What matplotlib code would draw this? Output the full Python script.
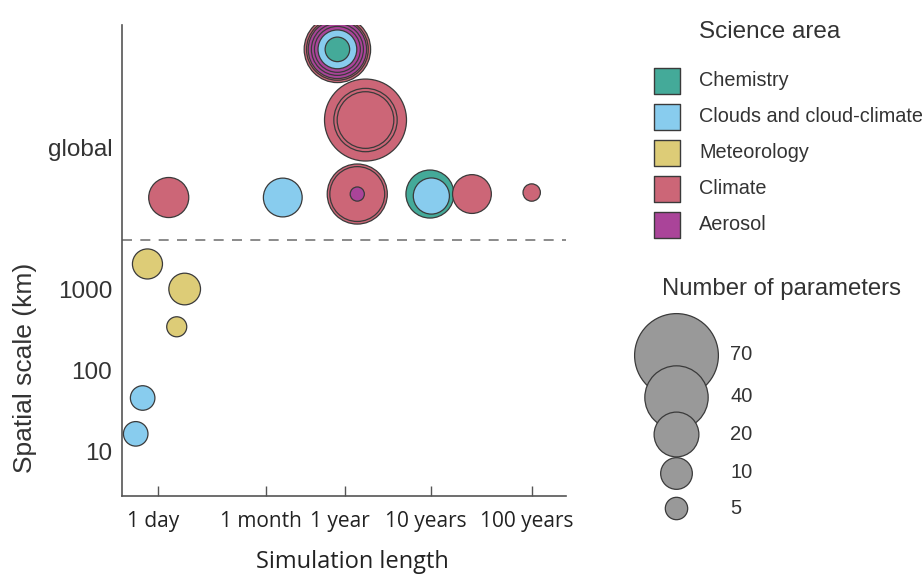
import numpy as np
import matplotlib
matplotlib.use("Agg")
import matplotlib.pyplot as plt
from matplotlib.transforms import ScaledTranslation

# Science areas and colours
areas = ["Chemistry", "Clouds and cloud-climate", "Meteorology", "Climate", "Aerosol"]
area_colors = ["#44AA99", "#88CCEE", "#DDCC77", "#CC6677", "#AA4499"]

# Studies: simulation length (days), spatial scale (km, "global" rows placed above), n parameters
sim_days = [0.71, 2.3, 1.79, 0.61, 0.49,
            1.39, 51, 507, 507, 507, 3550, 3680, 9310, 36500,
            632, 632, 632,
            287, 287, 287, 287, 287, 287, 287]
scale_km = [2030, 1000, 344, 46, 16.7,
            13270, 13270, 14640, 14640, 14640, 14640, 13840, 14640, 15280,
            118500, 118500, 118500,
            873000, 873000, 873000, 873000, 873000, 873000, 873000]
n_params = [9, 10, 4, 6, 6,
            16, 15, 36, 30, 2, 23, 13, 15, 3,
            67, 40, 32,
            44, 38, 34, 27, 21, 15, 6]
study_area = ["Meteorology", "Meteorology", "Meteorology",
              "Clouds and cloud-climate", "Clouds and cloud-climate",
              "Climate", "Clouds and cloud-climate", "Climate", "Climate", "Aerosol",
              "Chemistry", "Clouds and cloud-climate", "Climate", "Climate",
              "Climate", "Climate", "Climate",
              "Climate", "Climate", "Aerosol", "Aerosol", "Aerosol",
              "Clouds and cloud-climate", "Chemistry"]

x_ticks = [1, 30, 365, 3650, 36500]
x_ticklabels = ["1 day", "1 month", "1 year", "10 years", "100 years"]
y_ticks = [10, 100, 1000, 54000]
y_ticklabels = ["10", "100", "1000", "global"]
global_line_km = 3980

size_legend = [70, 40, 20, 10, 5]

SIZE_K = 52  # marker area (pt^2) per parameter

# uneven log axis as in the original figure
knot_log = np.log10([0.1, 1, 30, 365, 3650, 36500, 365000])
knot_pos = np.array([-0.729, 0, 1.077, 1.867, 2.727, 3.734, 4.741])

def fwd(x):
    x = np.clip(np.asarray(x, dtype=float), 1e-6, None)
    return np.interp(np.log10(x), knot_log, knot_pos)

def inv(p):
    return 10 ** np.interp(p, knot_pos, knot_log)

fig = plt.figure(figsize=(9.22, 5.75), dpi=100)
ax = fig.add_axes([122 / 922, 1 - 496 / 575, (566 - 122) / 922, (496 - 25) / 575])

ax.set_xscale("function", functions=(fwd, inv))
ax.set_yscale("log")
ax.set_xlim(inv(-0.363), inv(4.077))
ax.set_ylim(10 ** 0.46, 10 ** 6.24)

# draw big circles first so nested ones stay visible
order = np.argsort(n_params)[::-1]
cmap = dict(zip(areas, area_colors))
xs = np.array(sim_days)[order]
ys = np.array(scale_km)[order]
ss = np.array(n_params)[order] * SIZE_K
cs = [cmap[study_area[i]] for i in order]
ax.scatter(xs, ys, s=ss, c=cs, edgecolors="#3a3a3a", linewidths=0.9, zorder=3)

ax.axhline(global_line_km, color="#777777", lw=1.2, dashes=(6, 5), zorder=1)

for side in ["top", "right"]:
    ax.spines[side].set_visible(False)
for side in ["left", "bottom"]:
    ax.spines[side].set_color("#555555")
    ax.spines[side].set_linewidth(1.2)

ax.set_xticks(x_ticks)
ax.set_xticklabels(x_ticklabels, fontfamily="Open Sans", fontsize=15, color="#222222")
ax.xaxis.set_minor_locator(matplotlib.ticker.NullLocator())
ax.tick_params(axis="x", direction="in", length=7, width=1, color="#555555", pad=11)
shift = ScaledTranslation(-5 / 100, 0, fig.dpi_scale_trans)
for lab in ax.get_xticklabels():
    lab.set_transform(lab.get_transform() + shift)

ax.set_yticks(y_ticks)
ax.set_yticklabels(y_ticklabels, fontfamily="Liberation Sans", fontsize=17.5, color="#333333")
ax.yaxis.set_minor_locator(matplotlib.ticker.NullLocator())
ax.tick_params(axis="y", length=0, pad=7)

fig.text(352 / 922, 1 - 562 / 575, "Simulation length", ha="center", va="center",
         fontfamily="Open Sans", fontsize=17, color="#222222")
fig.text(25 / 922, 1 - 368 / 575, "Spatial scale (km)", ha="center", va="center",
         rotation=90, fontfamily="Liberation Sans", fontsize=19, color="#333333")

# legends, drawn in a pixel-coordinate overlay
lg = fig.add_axes([0, 0, 1, 1], facecolor="none")
lg.set_xlim(0, 922)
lg.set_ylim(575, 0)
lg.axis("off")

lg.text(699, 32, "Science area", ha="left", va="center",
        fontfamily="Liberation Sans", fontsize=17.5, color="#333333")
for i, (name, col) in enumerate(zip(areas, area_colors)):
    yy = 81 + i * 36
    lg.scatter([667], [yy], marker="s", s=377, c=col, edgecolors="#3a3a3a", linewidths=1.0)
    lg.text(699, yy, name, ha="left", va="center",
            fontfamily="Liberation Sans", fontsize=14.3, color="#333333")

lg.text(781, 289, "Number of parameters", ha="center", va="center",
        fontfamily="Liberation Sans", fontsize=17.2, color="#333333")
size_y = [355, 397, 434, 473, 508]
for n, yy in zip(size_legend, size_y):
    lg.scatter([676], [yy], s=n * SIZE_K, c="#999999", edgecolors="#3a3a3a", linewidths=0.9)
    lg.text(730, yy, str(n), ha="left", va="center",
            fontfamily="Liberation Sans", fontsize=14.5, color="#333333")

fig.savefig("out.png", dpi=100)
